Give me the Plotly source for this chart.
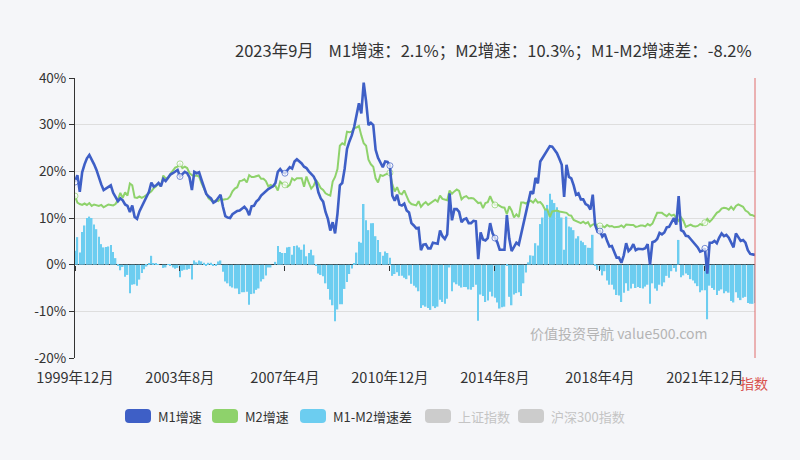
import plotly.graph_objects as go

START_YEAR, START_MONTH = 1999, 12

M1 = [17.7,
      19.2, 15.6, 19.8, 21.5, 22.8, 23.5, 22.6, 21.5, 20.3, 18.6, 17.2, 16.0,
      16.4, 16.8, 17.0, 15.4, 14.4, 13.6, 14.2, 13.8, 12.9, 12.6, 11.3, 12.7,
      10.2, 9.8, 11.4, 12.5, 13.6, 14.5, 15.6, 17.6, 16.7, 17.0, 17.5, 16.8,
      18.4, 17.9, 18.6, 19.3, 19.6, 19.9, 20.3, 18.9, 19.4, 19.9, 19.6, 18.7,
      16.0, 19.9, 19.6, 19.8, 18.2, 16.6, 15.2, 14.6, 14.2, 13.3, 13.6, 14.3,
      15.0, 12.4, 10.4, 10.1, 10.0, 10.8, 11.2, 11.5, 11.6, 12.1, 12.4, 11.8,
      10.6, 12.5, 12.6, 13.5, 14.0, 14.8, 15.3, 15.6, 16.2, 16.5, 16.8, 17.5,
      19.9, 20.5, 19.8, 19.6, 20.4, 20.9, 20.6, 22.1, 22.6, 22.2, 21.7, 21.0,
      20.7, 20.0, 19.5, 18.9, 17.9, 15.5, 14.2, 13.5, 11.3, 9.8, 7.3, 9.1,
      6.7, 10.9, 17.0, 17.5, 20.5, 24.8, 26.4, 27.7, 29.5, 32.0, 34.6, 32.4,
      39.0, 35.0, 29.9, 30.4, 29.9, 24.6, 22.9, 21.9, 20.9, 22.1, 22.0, 21.2,
      14.8, 13.7, 15.0, 12.9, 12.7, 13.1, 11.6, 11.2, 8.9, 8.4, 7.8, 7.9,
      3.1, 4.3, 4.4, 3.5, 3.5, 4.7, 4.6, 4.5, 7.3, 6.1, 5.5, 6.5,
      15.3, 9.5, 11.9, 11.9, 11.3, 9.1, 9.7, 9.9, 8.9, 8.9, 9.4, 9.3,
      1.2, 6.9, 5.4, 5.2, 5.7, 8.9, 6.7, 5.7, 4.8, 3.2, 3.2, 3.2,
      10.6, 5.6, 2.9, 3.7, 4.7, 4.3, 6.6, 9.3, 11.4, 14.0, 15.7, 15.2,
      18.6, 17.4, 22.1, 22.9, 23.7, 24.6, 25.4, 25.3, 24.7, 23.9, 22.7, 21.4,
      14.5, 21.4, 18.8, 18.5, 17.0, 15.0, 15.3, 14.0, 14.0, 13.0, 12.7, 11.8,
      15.0, 8.5, 7.1, 7.2, 6.0, 6.6, 5.1, 3.9, 4.0, 2.7, 1.5, 1.5,
      0.4, 2.0, 4.6, 2.9, 3.4, 4.4, 3.1, 3.4, 3.4, 3.3, 3.5, 4.4,
      0.0, 4.8, 5.0, 5.5, 6.8, 6.5, 6.9, 8.0, 8.1, 9.1, 10.0, 8.6,
      14.7, 7.4, 7.1, 6.2, 6.1, 5.5, 4.9, 4.2, 3.7, 2.8, 3.0, 3.5,
      -1.9, 4.7, 4.7, 5.1, 4.6, 5.8, 6.7, 6.1, 6.4, 5.8, 4.6, 3.7,
      6.7, 5.8, 5.1, 5.3, 4.7, 3.1, 2.3, 2.2, 2.1]

M2 = [14.7,
      13.3, 13.0, 12.8, 13.1, 12.8, 13.2, 12.6, 12.9, 12.7, 12.6, 12.8, 12.3,
      12.6, 12.9, 12.8, 12.7, 13.0, 13.9, 15.4, 14.3, 15.5, 14.8, 17.4, 17.0,
      14.4, 14.3, 14.6, 14.3, 14.6, 14.9, 15.3, 15.7, 16.4, 16.8, 17.4, 16.8,
      19.1, 18.5, 18.5, 19.5, 20.2, 20.8, 21.0, 21.6, 20.7, 21.0, 20.7, 19.6,
      19.2, 19.0, 19.1, 18.9, 17.5, 16.2, 15.3, 14.2, 13.8, 13.4, 13.8, 13.6,
      14.1, 13.9, 14.0, 14.1, 14.6, 15.7, 16.3, 16.6, 17.9, 18.0, 18.3, 17.6,
      19.2, 18.8, 18.8, 18.9, 19.1, 18.4, 18.4, 17.9, 16.8, 17.1, 16.8, 16.9,
      15.9, 17.8, 17.3, 17.1, 16.7, 17.1, 18.5, 18.1, 18.5, 18.5, 18.5, 16.7,
      18.9, 17.5, 16.3, 16.9, 18.1, 17.4, 16.4, 16.0, 15.3, 15.0, 14.8, 17.8,
      18.8, 20.5, 25.5, 26.0, 25.7, 28.5, 28.4, 28.5, 29.3, 29.4, 29.7, 27.7,
      26.0, 25.5, 22.5, 21.5, 21.0, 18.5, 17.6, 19.2, 19.0, 19.3, 19.5, 19.7,
      17.2, 15.7, 16.6, 15.3, 15.1, 15.9, 14.7, 13.5, 13.0, 12.9, 12.7, 13.6,
      12.4, 13.0, 13.4, 12.8, 13.2, 13.6, 13.9, 13.5, 14.8, 14.1, 13.9, 13.8,
      15.9, 15.2, 15.7, 16.1, 15.8, 14.0, 14.5, 14.7, 14.2, 14.3, 14.2, 13.6,
      13.2, 13.3, 12.1, 13.2, 13.4, 14.7, 13.5, 12.8, 12.9, 12.6, 12.3, 12.2,
      10.8, 12.5, 11.6, 10.1, 10.8, 10.2, 13.3, 13.3, 13.1, 13.5, 13.7, 13.3,
      14.0, 13.3, 13.4, 12.8, 11.8, 11.8, 10.2, 11.4, 11.5, 11.6, 11.4, 11.3,
      11.3, 11.1, 10.6, 10.5, 9.6, 9.4, 9.2, 8.9, 9.2, 8.8, 9.1, 8.2,
      8.6, 8.8, 8.2, 8.3, 8.3, 8.0, 8.5, 8.2, 8.3, 8.0, 8.0, 8.1,
      8.4, 8.0, 8.6, 8.5, 8.5, 8.5, 8.1, 8.2, 8.4, 8.4, 8.2, 8.7,
      8.4, 8.8, 10.1, 11.1, 11.1, 11.1, 10.7, 10.4, 10.9, 10.5, 10.7, 10.1,
      9.4, 10.1, 9.4, 8.1, 8.3, 8.6, 8.3, 8.2, 8.3, 8.7, 8.5, 9.0,
      9.8, 9.2, 9.7, 10.5, 11.1, 11.4, 12.0, 12.2, 12.1, 11.8, 12.4, 11.8,
      12.6, 12.9, 12.7, 12.4, 11.6, 11.3, 10.7, 10.6, 10.3]

TICK_LABELS = ["1999年12月", "2003年8月", "2007年4月", "2010年12月",
               "2014年8月", "2018年4月", "2021年12月"]
Y_TICKS = [-20, -10, 0, 10, 20, 30, 40]
LEGEND_NAMES = ["M1增速", "M2增速", "M1-M2增速差", "上证指数", "沪深300指数"]

# month category labels
MONTHS = []
for i in range(len(M1)):
    k = START_MONTH - 1 + i
    MONTHS.append(f"{START_YEAR + k // 12}年{k % 12 + 1}月")
DIFF = [round(a - b, 1) for a, b in zip(M1, M2)]

# ---- styles / layout ----
FONT = "Noto Sans CJK SC"
C_M1, C_M2, C_DIFF, C_OFF = "#3e5fc6", "#8ed26b", "#6ccdf0", "#cccccc"
BG = "#f5f6f9"
W, H = 800, 460
L, R, T, B = 75, 755, 78, 358


def px(x):
    return (x - L) / (R - L)


def py(y):
    return (B - y) / (B - T)


tick_idx = [MONTHS.index(t) for t in TICK_LABELS]
msize = [6 if i in tick_idx else 0 for i in range(len(MONTHS))]

fig = go.Figure()
fig.add_trace(go.Bar(x=MONTHS, y=DIFF, name=LEGEND_NAMES[2],
                     marker=dict(color=C_DIFF, line=dict(width=0)),
                     showlegend=False))
fig.add_trace(go.Scatter(x=MONTHS, y=M2, name=LEGEND_NAMES[1], mode="lines+markers",
                         line=dict(color=C_M2, width=2),
                         marker=dict(size=msize, color="white",
                                     line=dict(color=C_M2, width=1)),
                         showlegend=False))
fig.add_trace(go.Scatter(x=MONTHS, y=M1, name=LEGEND_NAMES[0], mode="lines+markers",
                         line=dict(color=C_M1, width=2.6),
                         marker=dict(size=msize, color="white",
                                     line=dict(color=C_M1, width=1)),
                         showlegend=False))
# helper trace for the tick marks on the zero line
fig.add_trace(go.Scatter(x=MONTHS, y=[None] * len(MONTHS), xaxis="x2", yaxis="y",
                         showlegend=False, hoverinfo="skip", mode="lines"))

zero_pos = (0 - Y_TICKS[0]) / (Y_TICKS[-1] - Y_TICKS[0])

shapes = [dict(type="line", xref="paper", yref="paper", x0=1, x1=1, y0=0, y1=1,
               line=dict(color="#e06c6c", width=1))]
annotations = []

# custom legend
leg_x = [125, 212, 300, 425, 518]
leg_colors = [C_M1, C_M2, C_DIFF, C_OFF, C_OFF]
leg_text_colors = ["#333333", "#333333", "#333333", "#c4c4c4", "#c4c4c4"]
for name, lx, col, tcol in zip(LEGEND_NAMES, leg_x, leg_colors, leg_text_colors):
    x0, x1 = px(lx), px(lx + 26)
    y0, y1 = py(423), py(409)
    rx, ry = 4 / (R - L), 4 / (B - T)
    path = (f"M{x0+rx},{y0} L{x1-rx},{y0} Q{x1},{y0} {x1},{y0+ry} "
            f"L{x1},{y1-ry} Q{x1},{y1} {x1-rx},{y1} L{x0+rx},{y1} "
            f"Q{x0},{y1} {x0},{y1-ry} L{x0},{y0+ry} Q{x0},{y0} {x0+rx},{y0} Z")
    shapes.append(dict(type="path", xref="paper", yref="paper", path=path,
                       fillcolor=col, line=dict(width=0)))
    annotations.append(dict(text=name, xref="paper", yref="paper", x=px(lx + 31),
                            y=py(416), xanchor="left", yanchor="middle", showarrow=False,
                            font=dict(family=FONT, size=13, color=tcol)))

nb = "\u00a0"
title = (f"{START_YEAR + (START_MONTH - 1 + len(M1) - 1) // 12}年"
         f"{(START_MONTH - 1 + len(M1) - 1) % 12 + 1}月{nb*4}"
         f"M1增速：{M1[-1]}%；M2增速：{M2[-1]}%；M1-M2增速差：{DIFF[-1]}%")
annotations.append(dict(text=title, xref="paper", yref="paper", x=px(754), y=py(50),
                        xanchor="right", yanchor="middle", showarrow=False,
                        font=dict(family=FONT, size=16.5, color="#333333")))
annotations.append(dict(text="价值投资导航 value500.com", xref="paper", yref="paper",
                        x=px(528), y=py(333), xanchor="left", yanchor="middle",
                        showarrow=False, font=dict(family=FONT, size=14, color="#b4b4b4")))
annotations.append(dict(text="指数", xref="paper", yref="paper", x=px(754), y=py(383),
                        xanchor="center", yanchor="middle", showarrow=False,
                        font=dict(family=FONT, size=14, color="#d9534f")))

fig.update_layout(
    width=W, height=H,
    margin=dict(l=L, r=W - R, t=T, b=H - B),
    paper_bgcolor=BG, plot_bgcolor=BG,
    font=dict(family=FONT, size=14, color="#333333"),
    bargap=0.35,
    showlegend=False,
    hovermode=False,
    xaxis=dict(type="category", categoryorder="array", categoryarray=MONTHS,
               range=[0, len(MONTHS) - 1], tickvals=TICK_LABELS, ticktext=TICK_LABELS,
               showgrid=False, showline=False, ticks="", zeroline=False,
               tickfont=dict(family=FONT, size=14.5, color="#333333"),
               ticklabelstandoff=9),
    xaxis2=dict(type="category", categoryorder="array", categoryarray=MONTHS,
                overlaying="x", anchor="free", position=zero_pos, side="bottom",
                range=[0, len(MONTHS) - 1], tickvals=TICK_LABELS,
                showticklabels=False, ticks="outside", ticklen=5, tickcolor="#333333",
                showgrid=False, showline=False, zeroline=False),
    yaxis=dict(range=[Y_TICKS[0], Y_TICKS[-1]], tickvals=Y_TICKS,
               ticktext=[f"{v}%" for v in Y_TICKS],
               showgrid=True, gridcolor="#dedede", gridwidth=1,
               showline=True, linecolor="#333333", linewidth=1,
               ticks="outside", ticklen=5, tickcolor="#333333",
               zeroline=True, zerolinecolor="#333333", zerolinewidth=1,
               tickfont=dict(family=FONT, size=13.5, color="#333333")),
    shapes=shapes,
    annotations=annotations,
)

fig.write_html("out.html")
